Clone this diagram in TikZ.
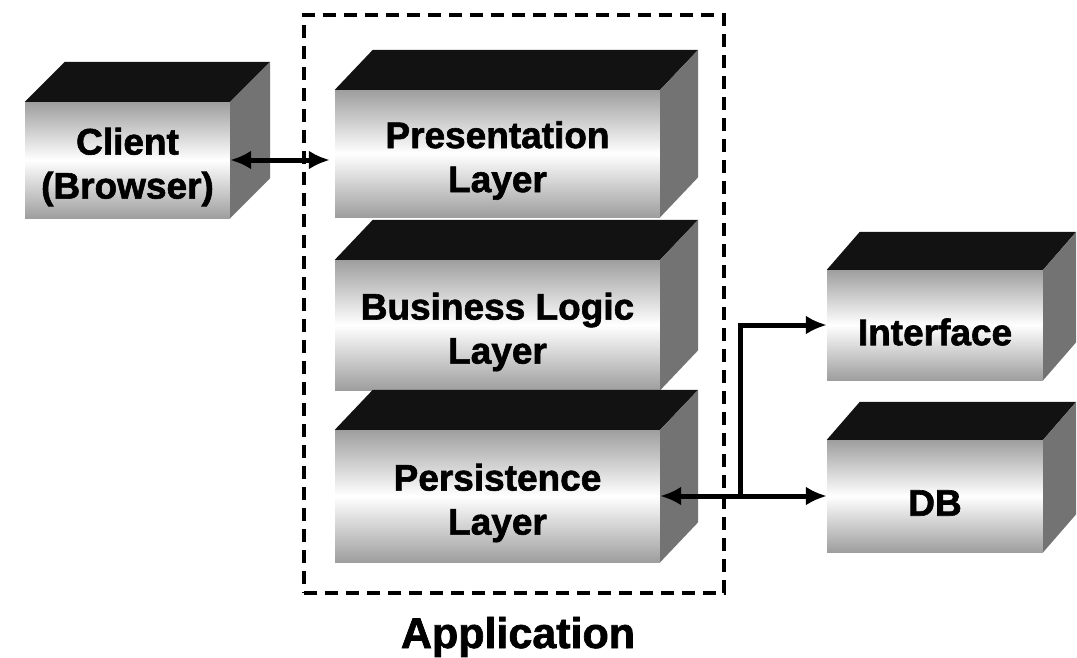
\documentclass[tikz,border=0pt]{standalone}
\usepackage{fontspec}
\setmainfont{Liberation Sans}[BoldFeatures={FakeBold=1.6}]
\usetikzlibrary{arrows.meta,calc}
\newcommand\cubebox[8]{%
  \node[front, minimum width=#4pt, minimum height=#5pt] (#1) at (#2,#3) {};
  \fill[topface] (#1.north west) -- ++(#6,-#7) -- ([shift={(#6,-#7)}]#1.north east) -- (#1.north east) -- cycle;
  \fill[sideface] (#1.north east) -- ++(#6,-#7) -- ([shift={(#6,-#7)}]#1.south east) -- (#1.south east) -- cycle;
  \node[boxtext] (#1-text) at ([yshift=-7pt]#1.center) {#8};
}
\begin{document}
\begin{tikzpicture}[x=1pt,y=-1pt,
  front/.style={rectangle, inner sep=0pt, top color=black!38, bottom color=black!38, middle color=white},
  boxtext/.style={align=center, inner sep=0pt, font=\bfseries\fontsize{37}{44}\selectfont},
  topface/.style={fill=black!93},
  sideface/.style={fill=black!55},
  appbox/.style={draw, line width=3.5pt, dash pattern=on 13pt off 8pt, rectangle, inner sep=0pt},
  applabel/.style={font=\bfseries\fontsize{43}{50}\selectfont, anchor=base},
  tip/.style={},
  conn/.style={line width=5pt, -{Latex[length=21pt,width=19pt]}},
  biconn/.style={line width=5pt, {Latex[length=21pt,width=19pt]}-{Latex[length=21pt,width=19pt]}}
]
\fill[white] (0,0) rectangle (1077,657);
\useasboundingbox (0,0) rectangle (1077,657);

\node[appbox, minimum width=420pt, minimum height=578pt] (app) at (514,304) {};
\node[applabel] (applbl) at (518,648) {Application};

\cubebox{client}{127.5}{160}{205}{116}{40}{40}{Client\\(Browser)}
\cubebox{pres}{497.5}{153.5}{325}{127}{38}{40}{Presentation\\Layer}
\cubebox{biz}{497.5}{325}{325}{130}{38}{40}{Business Logic\\Layer}
\cubebox{pers}{497.5}{496}{325}{132}{38}{40}{Persistence\\Layer}
\cubebox{iface}{935}{325}{216}{110}{33}{38}{Interface}
\cubebox{db}{935}{496}{216}{112}{33}{38}{DB}

\draw[biconn, shorten >=5pt] (client.east) -- (client.east -| pres.west);
\draw[biconn] (pers.east) -- (db.west);
\coordinate (j) at ($(pers.east)!0.479!(db.west)$);
\draw[conn] (j) |- (iface.west);
\end{tikzpicture}
\end{document}
